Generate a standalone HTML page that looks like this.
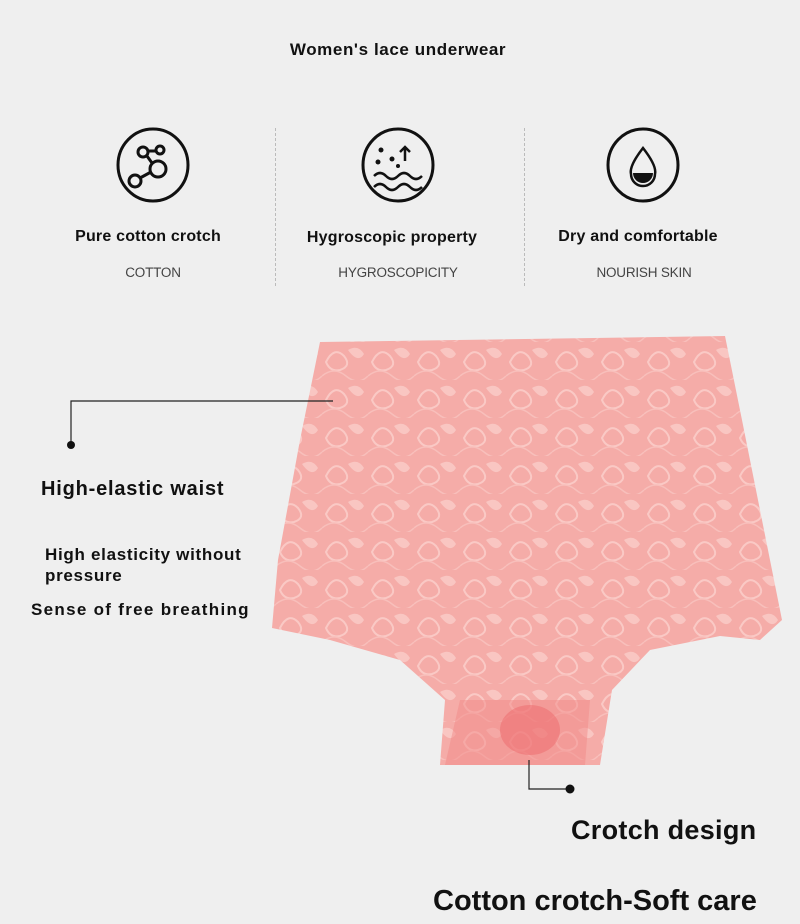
<!DOCTYPE html>
<html><head><meta charset="utf-8"><style>
body{margin:0;width:800px;height:924px;background:#efefef;font-family:"Liberation Sans",sans-serif;position:relative;overflow:hidden;color:#111}
.t{position:absolute;white-space:nowrap}
.b{font-weight:bold}
.c{text-align:center;transform:translateX(-50%)}
.sub{font-size:13.5px;color:#444;letter-spacing:-0.2px}
.h{font-size:16px;font-weight:bold;letter-spacing:0.2px}
.dash{position:absolute;top:128px;height:158px;border-left:1px dashed #bbb}
</style></head><body>
<div class="t b c" style="left:398px;top:40px;font-size:17px;letter-spacing:0.6px">Women's lace underwear</div>
<div class="dash" style="left:275px"></div>
<div class="dash" style="left:524px"></div>
<svg width="800" height="924" style="position:absolute;left:0;top:0">
 <g fill="none" stroke="#111" stroke-width="3">
  <ellipse cx="153" cy="165" rx="35" ry="36"/>
  <ellipse cx="398" cy="165" rx="35" ry="36"/>
  <ellipse cx="643" cy="165" rx="35" ry="36"/>
  <circle cx="143" cy="152" r="5"/><circle cx="160" cy="150" r="4"/><circle cx="158" cy="169" r="8"/><circle cx="135" cy="181" r="6"/>
  <path d="M148 151h8M147 156l5 7M151 172l-11 6"/>
  <path d="M374 176q6-6 12 0t12 0t12 0t12 0M374 187q6-6 12 0t12 0t12 0t12 0" stroke-width="2.5"/>
  <path d="M405 161v-14M400 152l5-5 5 5" stroke-width="2.5"/>
  <path d="M643 148q-14 18-12 26a12 12 0 0 0 24 0q2-8-12-26z" stroke-width="2.5"/>
 </g>
 <g fill="#111"><circle cx="381" cy="150" r="2.5"/><circle cx="378" cy="162" r="2.5"/><circle cx="392" cy="159" r="2.5"/><circle cx="398" cy="166" r="2"/>
 <path d="M633 173h20a10 10 0 0 1-20 0z"/></g>
 <defs><pattern id="lace" width="46" height="38" patternUnits="userSpaceOnUse">
  <rect width="46" height="38" fill="#f5aca8"/>
  <path d="M4 20q8-16 18-6q8 10-4 14q-10 2-14-8z" fill="none" stroke="#fac9c5" stroke-width="2"/>
  <path d="M26 8q10-6 16 4q-6 10-16-4z" fill="#f9c6c2"/>
  <path d="M0 34q12-10 24 0t22 0" fill="none" stroke="#f8bfbb" stroke-width="1.5"/>
 </pattern></defs>
 <path d="M320 342 L725 336 L742 420 L770 560 L782 620 L760 640 L720 636 L650 650 L612 690 L600 765 L440 765 L445 700 L400 660 L330 640 L272 628 L278 560 L300 440 Z" fill="url(#lace)"/>
 <path d="M460 700 L590 700 L585 765 L445 765 Z" fill="#f28a88" opacity="0.5"/>
 <ellipse cx="530" cy="730" rx="30" ry="25" fill="#ee6a6c" opacity="0.5"/>
 <path d="M333 401H71V445M529 760V789H570" fill="none" stroke="#222" stroke-width="1.2"/>
 <circle cx="71" cy="445" r="4" fill="#111"/><circle cx="570" cy="789" r="4.5" fill="#111"/>
</svg>
<div class="t h c" style="left:148px;top:228px">Pure cotton crotch</div>
<div class="t h c" style="left:392px;top:229px">Hygroscopic property</div>
<div class="t h c" style="left:638px;top:228px">Dry and comfortable</div>
<div class="t sub c" style="left:153px;top:265px">COTTON</div>
<div class="t sub c" style="left:398px;top:265px">HYGROSCOPICITY</div>
<div class="t sub c" style="left:644px;top:265px">NOURISH SKIN</div>
<div class="t b" style="left:41px;top:478px;font-size:20px;letter-spacing:0.8px">High-elastic waist</div>
<div class="t b" style="left:45px;top:544px;font-size:17px;line-height:21px;letter-spacing:0.7px">High elasticity without<br>pressure</div>
<div class="t b" style="left:31px;top:600px;font-size:17px;letter-spacing:1.3px">Sense of free breathing</div>
<div class="t b" style="left:571px;top:815px;font-size:27px;letter-spacing:0.3px">Crotch design</div>
<div class="t b" style="left:433px;top:885px;font-size:29px;letter-spacing:0">Cotton crotch-Soft care</div>
</body></html>
